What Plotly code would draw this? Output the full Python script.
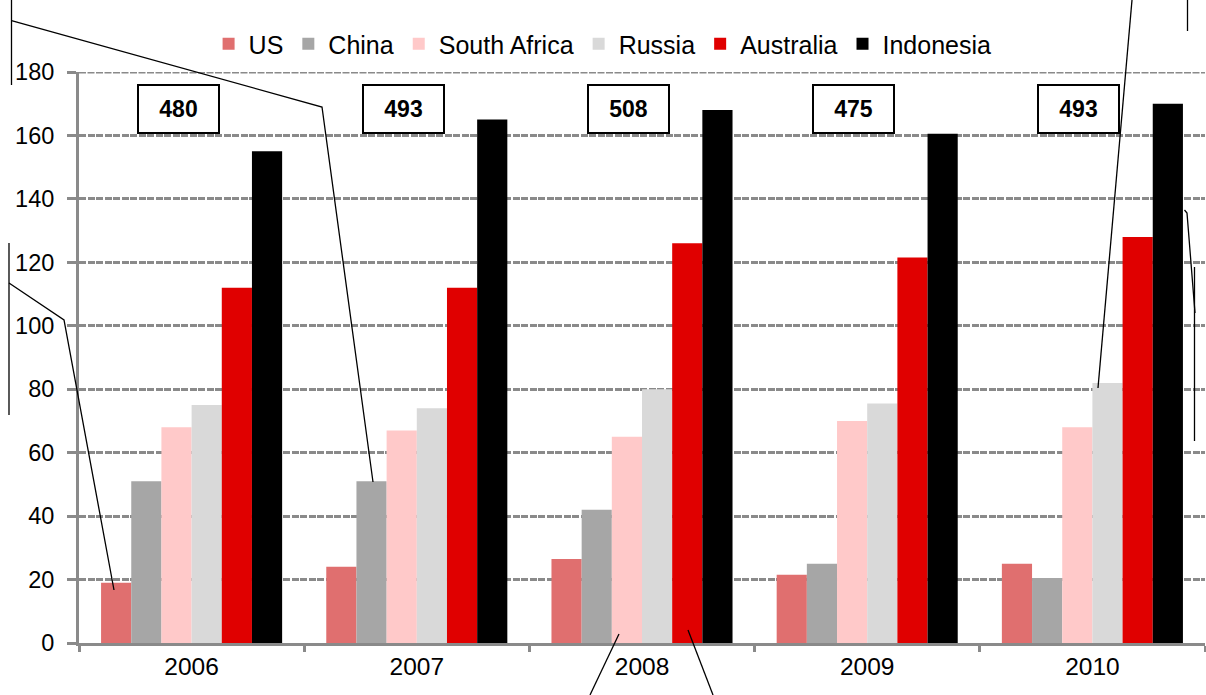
import plotly.graph_objects as go

# ---- data ----
years = ["2006", "2007", "2008", "2009", "2010"]
us = [19, 24, 26.5, 21.5, 25]
china = [51, 51, 42, 25, 20.5]
south_africa = [68, 67, 65, 70, 68]
russia = [75, 74, 80, 75.5, 82]
australia = [112, 112, 126, 121.5, 128]
indonesia = [155, 165, 168, 160.5, 170]
totals = ["480", "493", "508", "475", "493"]
y_max = 180

series = [
    ("US", us, "#E06F6F"),
    ("China", china, "#A6A6A6"),
    ("South Africa", south_africa, "#FFC9C9"),
    ("Russia", russia, "#D9D9D9"),
    ("Australia", australia, "#E00000"),
    ("Indonesia", indonesia, "#000000"),
]

FONT = "Liberation Sans, Arial, sans-serif"
GRAY = "#8A8A8A"

# layout geometry (pixels)
W, H = 1206, 695
ML, MR, MT, MB = 79, 1, 72, 52
PW, PH = W - ML - MR, H - MT - MB

def px(x):
    return (x - ML) / PW

def py(y):
    return (H - MB - y) / PH

fig = go.Figure()
for name, vals, col in series:
    fig.add_trace(go.Bar(x=years, y=vals, name=name, marker=dict(color=col, line=dict(width=0))))

# total boxes (category index positions)
for i, t in enumerate(totals):
    fig.add_annotation(
        x=i, y=168.2, xref="x", yref="y", text="<b>%s</b>" % t, showarrow=False,
        xshift=-13.5, width=79, height=46, bordercolor="black", borderwidth=2,
        borderpad=0, bgcolor="white", font=dict(family=FONT, size=23, color="black"),
    )

# top gridline (plotly drops the gridline at the range edge)
fig.add_shape(type="line", xref="paper", yref="y", x0=0, x1=1, y0=y_max, y1=y_max,
              line=dict(color=GRAY, width=3, dash="7px,1.5px"), layer="below")

# leader lines from cropped callouts (decoration)
polylines = [
    [(11.5, 0), (11.5, 85)],
    [(11.5, 20.5), (322, 107), (373, 482)],
    [(9, 243), (9, 415)],
    [(9, 283), (64, 320), (114, 590)],
    [(619, 634), (590, 695)],
    [(688, 630), (713, 695)],
    [(1098, 388), (1132, 0)],
    [(1187.5, 0), (1187.5, 31)],
    [(1184.5, 210), (1187, 213), (1195, 313)],
    [(1194.5, 267), (1194.5, 441)],
]
for pl in polylines:
    path = "M" + " L".join("%.5f,%.5f" % (px(a), py(b)) for a, b in pl)
    fig.add_shape(type="path", path=path, xref="paper", yref="paper",
                  line=dict(color="black", width=1.3), layer="above")

fig.update_layout(
    width=W, height=H,
    margin=dict(l=ML, r=MR, t=MT, b=MB),
    paper_bgcolor="white", plot_bgcolor="white",
    barmode="group", bargap=0.196, bargroupgap=0,
    font=dict(family=FONT, size=23, color="black"),
    legend=dict(orientation="h", x=0.465, xanchor="center", y=1 + 28 / PH, yanchor="middle",
                font=dict(family=FONT, size=25, color="black"), bgcolor="rgba(0,0,0,0)",
                itemsizing="constant", tracegroupgap=0),
    showlegend=True,
)
fig.update_xaxes(
    type="category", range=[-0.5, 4.5], showline=True, linecolor=GRAY, linewidth=3,
    ticks="outside", tickson="boundaries", ticklen=6, tickwidth=3, tickcolor=GRAY,
    showgrid=False, tickfont=dict(family=FONT, size=24.5, color="black"),
)
fig.update_yaxes(
    range=[0, y_max], tick0=0, dtick=20, showline=True, linecolor=GRAY, linewidth=3,
    ticks="outside", ticklen=9, tickwidth=3, tickcolor=GRAY,
    showgrid=True, gridcolor=GRAY, gridwidth=3, griddash="7px,1.5px", zeroline=False,
    tickfont=dict(family=FONT, size=23.5, color="black"), ticklabelstandoff=8,
)

fig.write_html("out.html")
